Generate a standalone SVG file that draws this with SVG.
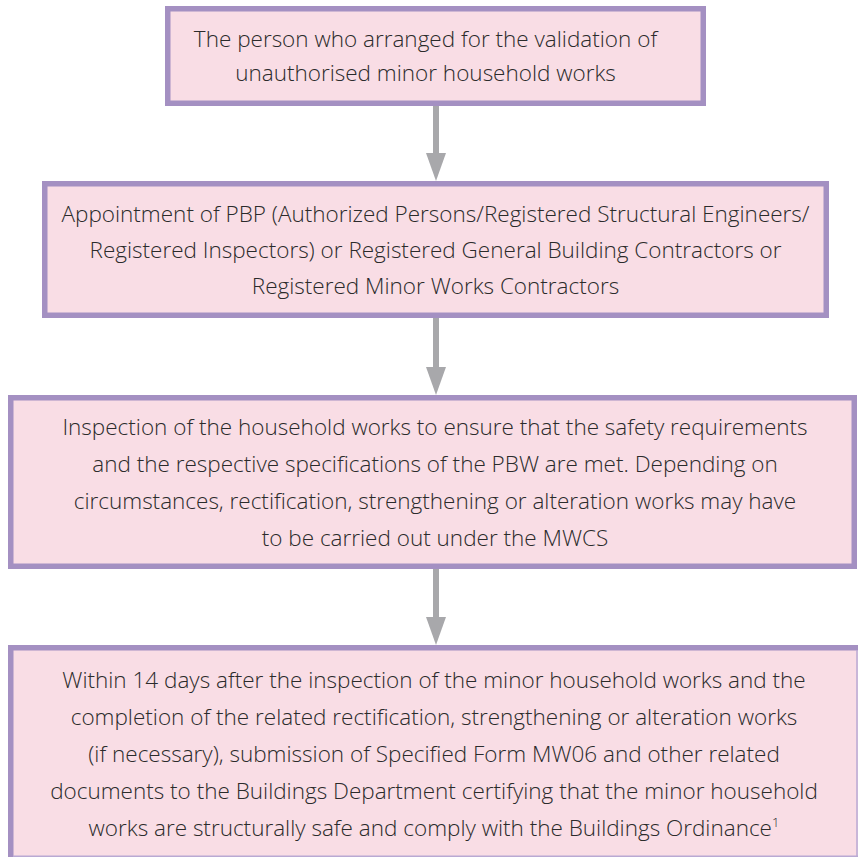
<svg xmlns="http://www.w3.org/2000/svg" width="858" height="857" viewBox="0 0 858 857">
  <style>
    .box { fill: #f9dde5; stroke: #a490c2; stroke-width: 5.5; }
    .fill { fill: #f9dde5; }
    .edge { fill: none; stroke: #a490c2; stroke-width: 5.5; }
    .thin { fill: none; stroke: #b9a9d3; stroke-width: 1.5; }
    .label { font-family: "Open Sans", "Noto Sans", "Liberation Sans", sans-serif; font-size: 22.5px; font-weight: 300; fill: #2b2b2b; text-anchor: middle; }
    .shaft { stroke: #a8a8ab; stroke-width: 6; fill: none; }
    .head { fill: #a8a8ab; }
  </style>
  <rect width="858" height="857" fill="#ffffff"/>

  <g id="connectors">
    <line class="shaft" x1="436" y1="106" x2="436" y2="155"/>
    <polygon class="head" points="426,153 446,153 436,181"/>
    <line class="shaft" x1="436" y1="318" x2="436" y2="369"/>
    <polygon class="head" points="426,367 446,367 436,395"/>
    <line class="shaft" x1="436" y1="569" x2="436" y2="619"/>
    <polygon class="head" points="426,617 446,617 436,645"/>
  </g>

  <g id="node-applicant">
    <rect class="box" x="167.75" y="8.75" width="535.5" height="94.5"/>
    <text class="label" x="425.5" y="46.5">The person who arranged for the validation of</text>
    <text class="label" x="425.5" y="81">unauthorised minor household works</text>
  </g>

  <g id="node-appointment">
    <rect class="box" x="44.75" y="183.75" width="781.5" height="131.5"/>
    <text class="label" x="435.5" y="222">Appointment of PBP (Authorized Persons/Registered Structural Engineers/</text>
    <text class="label" x="435.5" y="258">Registered Inspectors) or Registered General Building Contractors or</text>
    <text class="label" x="435.5" y="294">Registered Minor Works Contractors</text>
  </g>

  <g id="node-inspection">
    <rect class="box" x="10.75" y="397.75" width="843.5" height="168.5"/>
    <text class="label" x="435" y="435">Inspection of the household works to ensure that the safety requirements</text>
    <text class="label" x="435" y="472">and the respective specifications of the PBW are met. Depending on</text>
    <text class="label" x="435" y="509">circumstances, rectification, strengthening or alteration works may have</text>
    <text class="label" x="435" y="546">to be carried out under the MWCS</text>
  </g>

  <g id="node-submission">
    <rect class="fill" x="8" y="645" width="850" height="212"/>
    <path class="edge" d="M10.75,857 V647.75 H858"/>
    <line class="thin" x1="857" y1="650" x2="857" y2="857"/>
    <line class="thin" x1="13" y1="856.25" x2="858" y2="856.25"/>
    <text class="label" x="434" y="688">Within 14 days after the inspection of the minor household works and the</text>
    <text class="label" x="434" y="725">completion of the related rectification, strengthening or alteration works</text>
    <text class="label" x="434" y="762">(if necessary), submission of Specified Form MW06 and other related</text>
    <text class="label" x="434" y="799">documents to the Buildings Department certifying that the minor household</text>
    <text class="label" x="434" y="836">works are structurally safe and comply with the Buildings Ordinance<tspan font-size="13" dy="-9">1</tspan></text>
  </g>
</svg>
